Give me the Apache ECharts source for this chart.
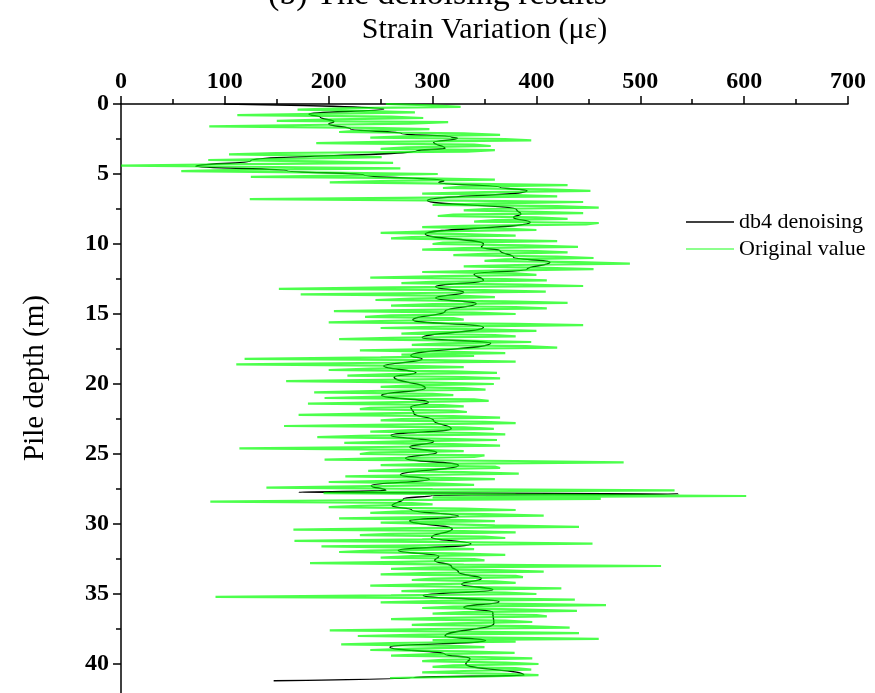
<!DOCTYPE html>
<html>
<head>
<meta charset="utf-8">
<script src="https://cdn.jsdelivr.net/npm/echarts@6/dist/echarts.min.js"></script>
<style>
  html, body { margin: 0; padding: 0; background: #fff; }
  #chart { width: 875px; height: 693px; }
</style>
</head>
<body>
<div id="chart"></div>
<script>
// Legend / series names
const seriesNames = ['db4 denoising', 'Original value'];

// Raw gauge readings along the pile, one every 0.1 m starting at 0 m (µε)
const sampleInterval = 0.1;
const originalStrain = [
  255, 300, 327, 220, 170, 240, 283, 190, 112, 260, 291, 205, 150, 315, 278, 180, 85, 240, 297, 230,   // 0 - 1.9 m
  210, 330, 365, 280, 240, 370, 395, 250, 188, 340, 356, 275, 250, 360, 333, 150, 104, 210, 251, 170,  // 2 - 3.9 m
  84, 190, 262, 120, 0, 150, 269, 110, 58, 200, 305, 230, 125, 280, 360, 250, 201, 340, 430, 330,      // 4 - 5.9 m
  310, 410, 452, 350, 290, 380, 420, 270, 124, 330, 445, 360, 300, 420, 460, 350, 330, 400, 445, 320,  // 6 - 7.9 m
  305, 400, 430, 360, 340, 460, 448, 330, 290, 370, 400, 300, 250, 330, 380, 280, 260, 350, 420, 310,  // 8 - 9.9 m
  300, 390, 440, 330, 290, 400, 430, 350, 320, 420, 455, 370, 350, 440, 490, 380, 330, 410, 455, 360,  // 10 - 11.9 m
  290, 380, 400, 310, 240, 370, 410, 300, 270, 390, 445, 260, 152, 350, 409, 290, 173, 330, 360, 280,  // 12 - 13.9 m
  245, 370, 430, 300, 260, 380, 410, 290, 205, 340, 380, 260, 235, 320, 330, 250, 200, 380, 445, 310,  // 14 - 15.9 m
  250, 350, 400, 300, 270, 360, 380, 260, 210, 330, 395, 310, 280, 390, 420, 300, 230, 320, 370, 270,  // 16 - 17.9 m
  340, 250, 119, 300, 380, 230, 111, 280, 330, 240, 200, 320, 362, 260, 218, 330, 365, 250, 159, 300,  // 18 - 19.9 m
  359, 280, 250, 330, 351, 240, 186, 300, 320, 250, 196, 340, 354, 270, 180, 310, 330, 240, 230, 320,  // 20 - 21.9 m
  333, 250, 171, 320, 365, 270, 250, 350, 380, 260, 157, 330, 359, 280, 240, 340, 370, 230, 189, 300,  // 22 - 23.9 m
  362, 270, 215, 320, 365, 250, 114, 290, 330, 240, 230, 350, 340, 260, 196, 380, 484, 300, 250, 360,  // 24 - 25.9 m
  365, 280, 238, 330, 383, 290, 216, 310, 360, 270, 200, 300, 340, 240, 140, 300, 533, 250, 195, 380,  // 26 - 27.9 m
  602, 300, 462, 250, 86, 280, 300, 230, 200, 330, 380, 270, 240, 350, 407, 290, 210, 320, 360, 250,   // 28 - 29.9 m
  250, 360, 441, 280, 166, 330, 380, 260, 230, 350, 370, 290, 167, 320, 454, 310, 193, 300, 340, 240,  // 30 - 31.9 m
  210, 320, 370, 280, 250, 340, 350, 270, 182, 330, 520, 300, 260, 360, 407, 290, 250, 380, 387, 300,  // 32 - 33.9 m
  280, 360, 380, 300, 240, 340, 424, 310, 270, 370, 400, 260, 91, 330, 437, 300, 250, 380, 467, 320,   // 34 - 35.9 m
  290, 380, 439, 330, 300, 400, 410, 310, 260, 370, 396, 320, 280, 390, 432, 300, 201, 350, 441, 290,  // 36 - 37.9 m
  228, 340, 460, 300, 380, 260, 212, 320, 350, 280, 240, 330, 379, 300, 260, 350, 396, 310, 290, 370,  // 38 - 39.9 m
  402, 320, 300, 380, 395, 330, 290, 370, 402, 340, 259                                                // 40 - 41.0 m
];

// db4 wavelet-denoised profile: depth (m) and strain (µε)
const denoisedDepth = [
  0, 0.36, 0.71, 0.95, 1.26, 1.43, 1.79, 2.1, 2.35, 2.45, 2.74, 3.17, 3.33, 4.05, 4.45,
  4.76, 5.07, 5.48, 5.6, 5.95, 6.19, 6.9, 7.55, 7.86, 8.1, 8.45, 9.29, 10.0, 10.24, 10.48,
  10.95, 11.3, 11.8, 12.15, 12.6, 13.05, 13.45, 13.85, 14.25, 14.8, 15.43, 15.95, 16.7, 17.08, 17.98,
  18.22, 18.72, 19.2, 19.5, 20.3, 20.8, 21.3, 21.65, 22.1, 22.6, 23.2, 23.68, 24.1, 24.5, 24.9,
  25.3, 25.8, 26.5, 26.8, 27.26, 27.6, 27.74, 27.85, 27.95, 28.2, 28.7, 29.0, 29.45, 29.76, 30.36,
  30.95, 31.43, 31.9, 32.3, 32.6, 33.0, 33.45, 33.9, 34.3, 34.7, 35.1, 35.55, 35.95, 36.3, 37.1,
  38.0, 38.33, 38.8, 39.3, 39.6, 40.0, 40.8, 40.95, 41.2
];
const denoisedStrain = [
  99, 253, 181, 192, 205, 200, 221, 270, 318, 324, 301, 312, 285, 125, 72,
  160, 234, 311, 306, 365, 391, 295, 381, 385, 378, 394, 293, 349, 347, 365,
  378, 413, 391, 340, 349, 303, 330, 303, 342, 312, 281, 349, 290, 356, 279,
  290, 253, 284, 263, 293, 251, 296, 279, 282, 301, 318, 260, 301, 278, 304,
  274, 325, 269, 297, 241, 255, 171, 537, 300, 272, 261, 280, 325, 278, 319,
  299, 337, 267, 306, 302, 318, 325, 347, 328, 358, 291, 364, 330, 358, 359,
  312, 351, 259, 312, 336, 332, 388, 282, 147
];

const serif = '"Liberation Serif", "Times New Roman", serif';

const chart = echarts.init(document.getElementById('chart'), null, { renderer: 'canvas' });

chart.setOption({
  animation: false,
  backgroundColor: '#ffffff',
  graphic: [
    {
      type: 'text',
      x: 437.5,
      y: -5,
      style: {
        text: '(b) The denoising results',
        font: '34px ' + serif,
        fill: '#000',
        textAlign: 'center',
        textVerticalAlign: 'middle'
      }
    },
    {
      type: 'text',
      x: 35,
      y: 378,
      rotation: Math.PI / 2,
      style: {
        text: 'Pile depth (m)',
        font: '29px ' + serif,
        fill: '#000',
        textAlign: 'center',
        textVerticalAlign: 'middle'
      }
    }
  ],
  legend: {
    data: seriesNames,
    orient: 'vertical',
    left: 681,
    top: 206,
    icon: 'rect',
    itemWidth: 48,
    itemHeight: 1.5,
    itemGap: 5,
    textStyle: { fontFamily: serif, fontSize: 22, color: '#000' }
  },
  grid: { left: 121, top: 104, width: 727, height: 630, outerBoundsMode: 'none', containLabel: false },
  xAxis: {
    type: 'value',
    position: 'top',
    min: 0,
    max: 700,
    interval: 100,
    name: 'Strain Variation (με)',
    nameLocation: 'middle',
    nameGap: 59,
    nameTextStyle: { fontFamily: serif, fontSize: 30, color: '#000' },
    axisLine: { show: true, onZero: false, lineStyle: { color: '#000', width: 1.5 } },
    axisTick: { show: true, inside: false, length: 8, lineStyle: { color: '#000', width: 1.5 } },
    minorTick: { show: true, splitNumber: 2, length: 5, lineStyle: { color: '#000', width: 1.5 } },
    axisLabel: { fontFamily: serif, fontWeight: 'bold', fontSize: 24, color: '#000', margin: 10 },
    splitLine: { show: false },
    minorSplitLine: { show: false }
  },
  yAxis: {
    type: 'value',
    inverse: true,
    min: 0,
    max: 45,
    interval: 5,
    axisLine: { show: true, onZero: false, lineStyle: { color: '#000', width: 1.5 } },
    axisTick: { show: true, inside: false, length: 8, lineStyle: { color: '#000', width: 1.5 } },
    minorTick: { show: true, splitNumber: 2, length: 5, lineStyle: { color: '#000', width: 1.5 } },
    axisLabel: { fontFamily: serif, fontWeight: 'bold', fontSize: 24, color: '#000', margin: 12 },
    splitLine: { show: false },
    minorSplitLine: { show: false }
  },
  series: [
    {
      name: seriesNames[0],
      type: 'line',
      data: denoisedDepth.map((d, i) => [denoisedStrain[i], d]),
      symbol: 'none',
      showSymbol: false,
      smooth: 0.5,
      smoothMonotone: 'y',
      lineStyle: { color: '#000', width: 1.4 },
      itemStyle: { color: '#000' },
      z: 2
    },
    {
      name: seriesNames[1],
      type: 'line',
      data: originalStrain.map((v, i) => [v, +(i * sampleInterval).toFixed(2)]),
      symbol: 'none',
      showSymbol: false,
      lineStyle: { color: 'rgba(0, 255, 0, 0.7)', width: 2.2 },
      itemStyle: { color: 'rgba(0, 255, 0, 0.6)' },
      z: 3
    }
  ]
});
</script>
</body>
</html>
